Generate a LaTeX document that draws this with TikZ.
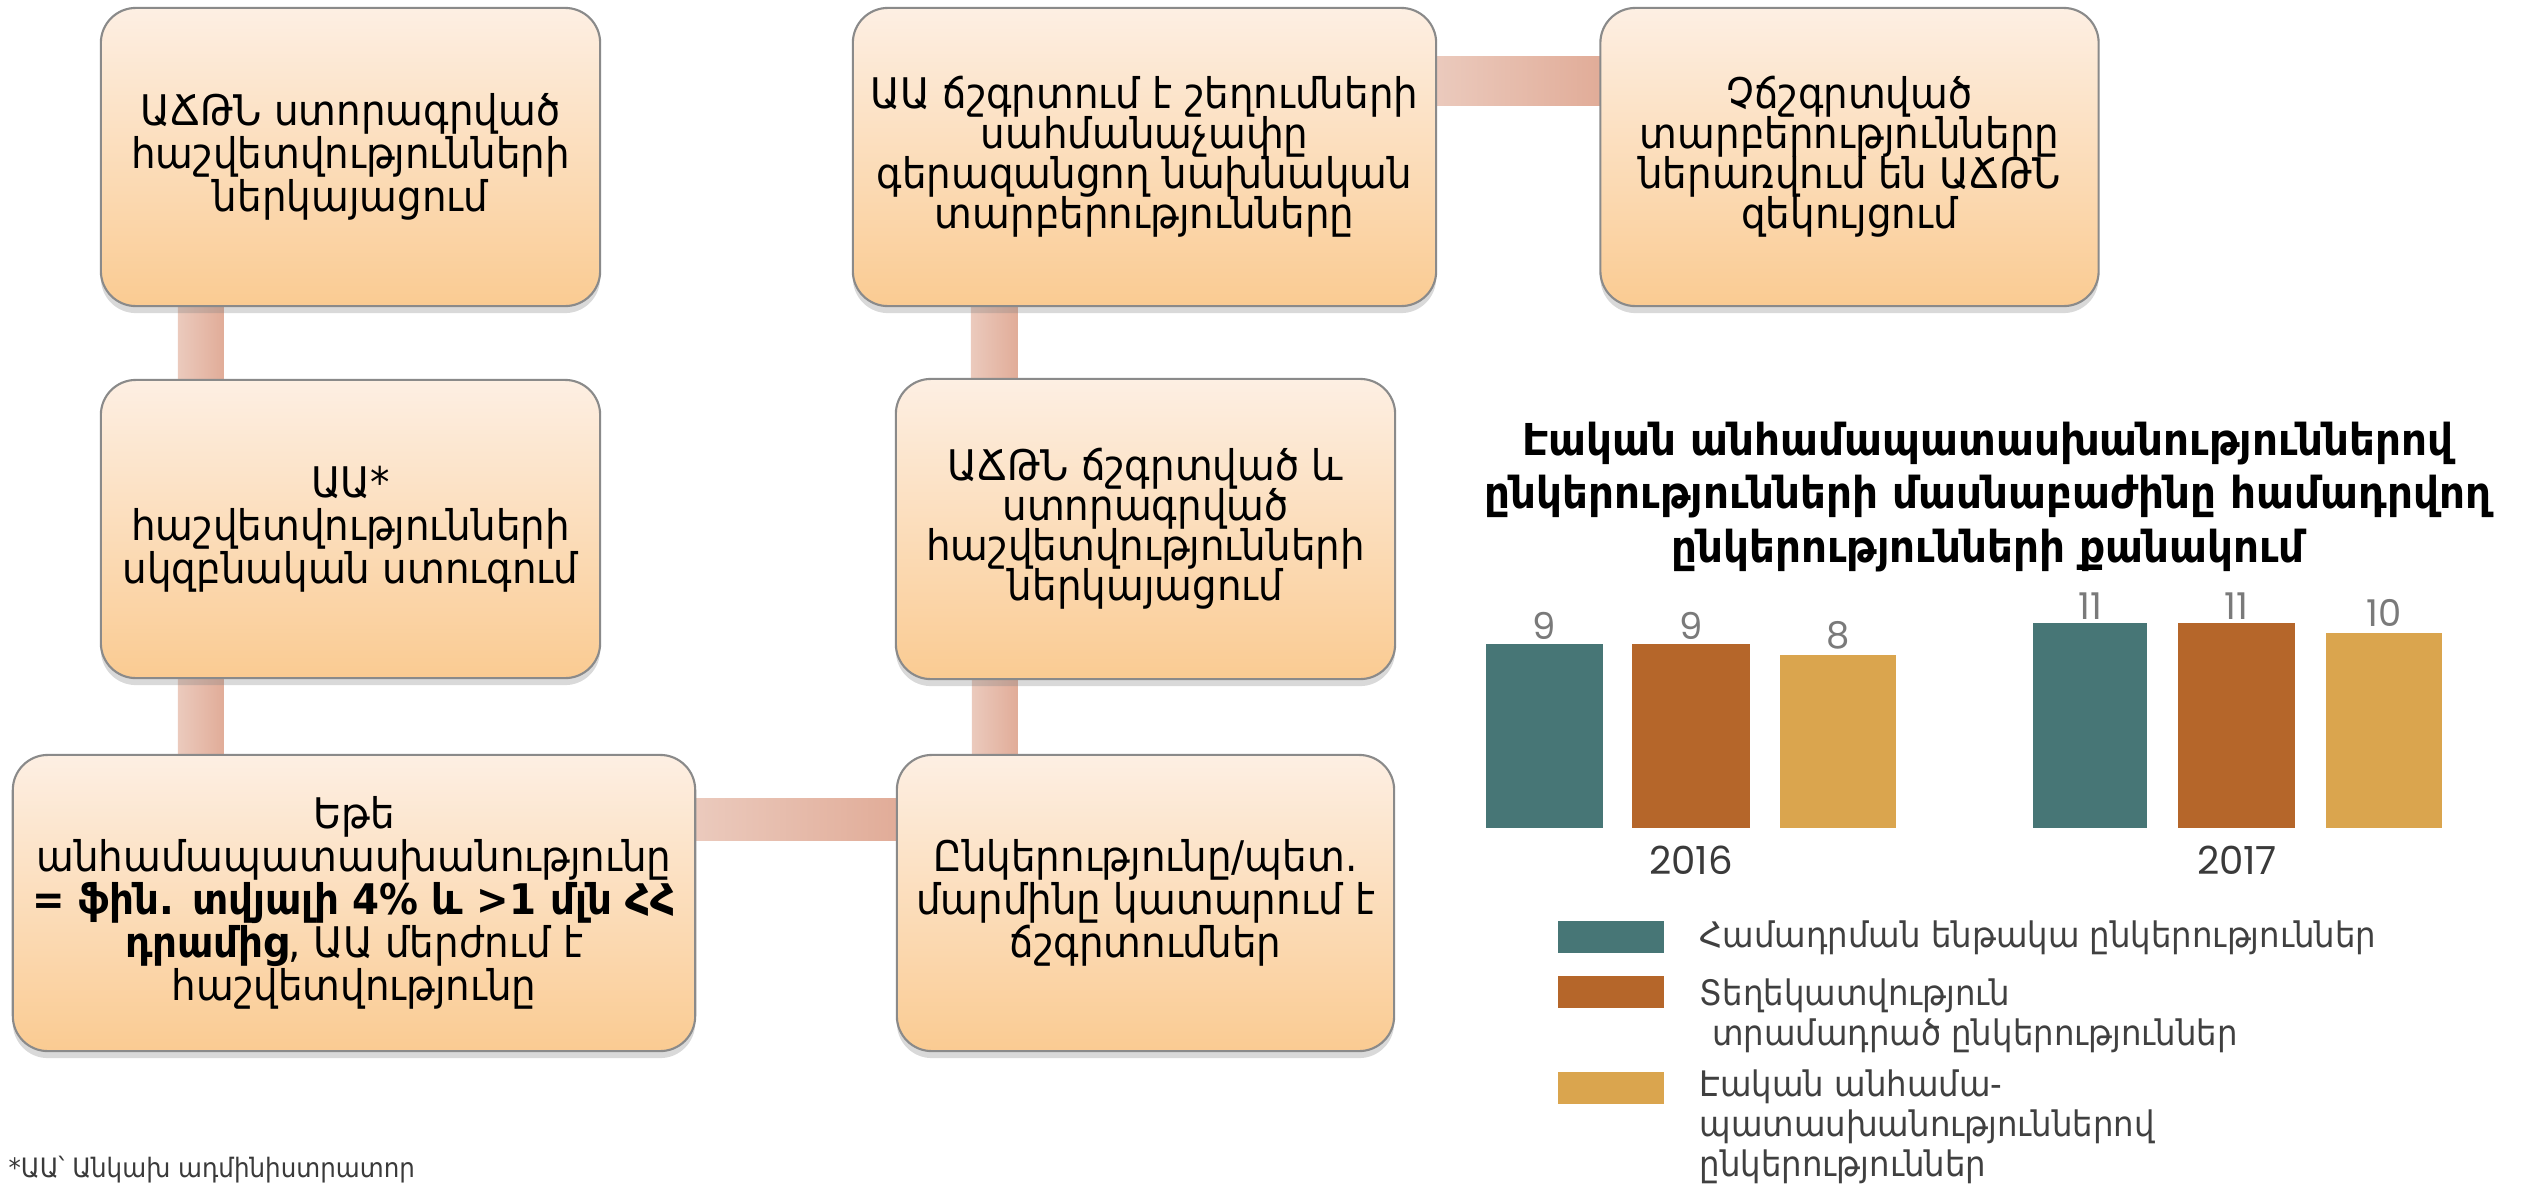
\documentclass[tikz,border=0pt]{standalone}
\usepackage{fontspec}
\setmainfont{DejaVu Sans}[FakeStretch=0.92]
\newfontfamily\numfont{Poppins}
\usetikzlibrary{shadows,backgrounds,calc}
\lineskiplimit=-30pt
\definecolor{boxtop}{HTML}{FDEFE3}
\definecolor{boxbot}{HTML}{FACB92}
\definecolor{boxline}{HTML}{8A8A8A}
\definecolor{connA}{HTML}{EBCABD}
\definecolor{connB}{HTML}{E1AC98}
\definecolor{cteal}{HTML}{477676}
\definecolor{cbrown}{HTML}{B5662A}
\definecolor{cgold}{HTML}{DAA54E}
\definecolor{numgray}{HTML}{7A7A7A}
\definecolor{yeargray}{HTML}{3A3A3A}
\definecolor{leggray}{HTML}{404040}
\newcommand\boxfont{\fontsize{12}{12.2}\selectfont\lineskiplimit=-30pt}
\newcommand\boxfontb{\fontsize{12}{11.4}\selectfont\lineskiplimit=-30pt}
\newcommand\titfont{\fontsize{12.5}{15.2}\selectfont\bfseries\lineskiplimit=-30pt}
\newcommand\legfont{\fontsize{10}{11.4}\selectfont\lineskiplimit=-30pt}
\tikzset{
  stepbox/.style={rectangle, rounded corners=0.35cm, draw=boxline, line width=0.6pt,
    top color=boxtop, bottom color=boxbot, align=center, font=\boxfont, inner sep=0pt,
    drop shadow={opacity=0.3, shadow xshift=0pt, shadow yshift=-0.07cm}},
  fourline/.style={font=\boxfontb},
  conn/.style={left color=connA, right color=connB},
  numlab/.style={font=\numfont\fontsize{10.5}{11}\selectfont, text=numgray, inner sep=0pt},
  yearlab/.style={font=\numfont\fontsize{11}{12}\selectfont, text=yeargray, inner sep=0pt},
  legtext/.style={font=\legfont, text=leggray, align=left, anchor=west, inner sep=0pt},
}
\begin{document}
\begin{tikzpicture}[x=0.01cm, y=-0.01cm]
\useasboundingbox (0,0) rectangle (2524,1187);
% boxes
\node[stepbox, minimum width=4.99cm, minimum height=2.98cm] (b1) at (350.5,157)
  {ԱՃԹՆ ստորագրված\\հաշվետվությունների\\ներկայացում};
\node[stepbox, minimum width=4.99cm, minimum height=2.98cm] (b2) at (350.5,529)
  {ԱԱ*\\հաշվետվությունների\\սկզբնական ստուգում};
\node[stepbox, minimum width=6.82cm, minimum height=2.96cm] (b3) at (354,903)
  {Եթե\\անհամապատասխանությունը\\{\bfseries = ֆին. տվյալի 4\% և >1 մլն ՀՀ}\\{\bfseries դրամից}, ԱԱ մերժում է\\հաշվետվությունը};
\node[stepbox, minimum width=4.97cm, minimum height=2.96cm] (b4) at (1145.5,903)
  {Ընկերությունը/պետ.\\մարմինը կատարում է\\ճշգրտումներ};
\node[stepbox, fourline, minimum width=4.99cm, minimum height=3.00cm] (b5) at (1145.5,529)
  {ԱՃԹՆ ճշգրտված և\\ստորագրված\\հաշվետվությունների\\ներկայացում};
\node[stepbox, fourline, minimum width=5.83cm, minimum height=2.98cm] (b6) at (1144.5,157)
  {ԱԱ ճշգրտում է շեղումների\\սահմանաչափը\\գերազանցող նախնական\\տարբերությունները};
\node[stepbox, fourline, minimum width=4.98cm, minimum height=2.98cm] (b7) at (1849.5,157)
  {Չճշգրտված\\տարբերությունները\\ներառվում են ԱՃԹՆ\\զեկույցում};
% connectors
\begin{pgfonlayer}{background}
\shade[conn] ($(b1.south west)+(78,-2)$) rectangle ($(b2.north west)+(124,2)$);
\shade[conn] ($(b2.south west)+(78,-2)$) rectangle ($(b2.south west |- b3.north)+(124,2)$);
\shade[conn] ($(b3.north east)+(-2,45)$) rectangle ($(b4.north west)+(2,87)$);
\shade[conn] ($(b4.north west)+(76,2)$) rectangle ($(b5.south west)+(123,-2)$);
\shade[conn] ($(b5.north west)+(76,2)$) rectangle ($(b5.north west |- b6.south)+(123,-2)$);
\shade[conn] ($(b6.north east)+(-2,50)$) rectangle ($(b7.north west)+(2,99)$);
\end{pgfonlayer}
% chart title
\node[font=\titfont, align=center, inner sep=0pt] (ct) at (1988,497)
  {Էական անհամապատասխանություններով\\ընկերությունների մասնաբաժինը համադրվող\\ընկերությունների քանակում};
% bars
\fill[cteal]  (1486,644) rectangle (1603,828);
\fill[cbrown] (1632,644) rectangle (1750,828);
\fill[cgold]  (1780,655) rectangle (1896,828);
\fill[cteal]  (2033,623) rectangle (2147,828);
\fill[cbrown] (2178,623) rectangle (2295,828);
\fill[cgold]  (2326,633) rectangle (2442,828);
\node[numlab] (n1) at (1544.5,626) {9};
\node[numlab] (n2) at (1691,626) {9};
\node[numlab] (n3) at (1838,635) {8};
\node[numlab] (n4) at (2090,606) {11};
\node[numlab] (n5) at (2236.5,606) {11};
\node[numlab] (n6) at (2384,613) {10};
\node[yearlab] (y1) at (1691,860) {2016};
\node[yearlab] (y2) at (2237,860) {2017};
% legend
\fill[cteal]  (1558,921) rectangle (1664,953);
\fill[cbrown] (1558,976) rectangle (1664,1008);
\fill[cgold]  (1558,1072) rectangle (1664,1104);
\node[legtext] (l1) at (1699,938) {Համադրման ենթակա ընկերություններ};
\node[legtext] (l2) at (1699,1016) {Տեղեկատվություն\\\hspace{0.35em}տրամադրած ընկերություններ};
\node[legtext] (l3) at (1699,1127) {Էական անհամա-\\պատասխանություններով\\ընկերություններ};
% footnote
\node[font=\fontsize{7.6}{9}\selectfont, text=yeargray, anchor=west, inner sep=0pt] (fn) at (8,1170)
  {*ԱԱ՝ Անկախ ադմինիստրատոր};
\end{tikzpicture}
\end{document}
